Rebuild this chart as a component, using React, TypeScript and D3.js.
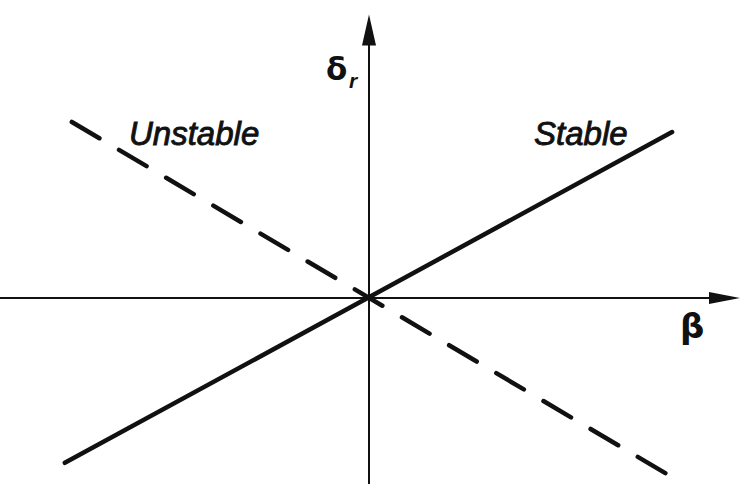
import React from 'react';
import * as d3 from 'd3';

// sideslip angle beta vs rudder deflection delta_r (normalised units)
const stableBeta = [-0.869, 0.866];
const stableDelta = [-0.471, 0.474];
const unstableBeta = [-0.849, 0.851];
const unstableDelta = [0.503, -0.503];
const axisBetaRange = [-1.06, 1.06];
const axisDeltaRange = [-0.54, 0.81];
const lineLabels = ['Stable', 'Unstable'];

const width = 750;
const height = 484;

const App: React.FC = () => {
  const x = d3.scaleLinear().domain([-1, 1]).range([19, 719]);
  const y = d3.scaleLinear().domain([-1, 1]).range([648, -52]);

  const line = d3
    .line<[number, number]>()
    .x((d) => x(d[0]))
    .y((d) => y(d[1]));

  const stablePts = stableBeta.map((b, i) => [b, stableDelta[i]] as [number, number]);
  const unstablePts = unstableBeta.map((b, i) => [b, unstableDelta[i]] as [number, number]);

  const x0 = x(0);
  const y0 = y(0);
  const xTip = x(axisBetaRange[1]);
  const yTip = y(axisDeltaRange[1]);

  return (
    <svg
      width={width}
      height={height}
      style={{ position: 'absolute', left: 0, top: 0, background: '#fff' }}
    >
      {/* axes */}
      <line x1={x(axisBetaRange[0])} y1={y0} x2={xTip - 20} y2={y0} stroke="#111" strokeWidth={2} />
      <line x1={x0} y1={y(axisDeltaRange[0])} x2={x0} y2={yTip + 20} stroke="#111" strokeWidth={2} />
      <path d={`M${xTip},${y0} L${xTip - 31},${y0 - 6} L${xTip - 31},${y0 + 6} Z`} fill="#111" />
      <path d={`M${x0},${yTip} L${x0 - 7},${yTip + 31} L${x0 + 7},${yTip + 31} Z`} fill="#111" />

      {/* characteristic lines */}
      <path d={line(stablePts) ?? ''} stroke="#111" strokeWidth={4.5} fill="none" strokeLinecap="round" />
      <path
        d={line(unstablePts) ?? ''}
        stroke="#111"
        strokeWidth={4.5}
        fill="none"
        strokeLinecap="round"
        strokeDasharray="32 22.8"
      />

      {/* labels */}
      <g
        fontFamily="'Liberation Sans', Arial, sans-serif"
        fontStyle="italic"
        fontSize={33}
        fill="#111"
        stroke="#111"
        strokeWidth={0.9}
      >
        <text x={534} y={145}>{lineLabels[0]}</text>
        <text x={129} y={145}>{lineLabels[1]}</text>
      </g>
      <text x={326} y={80} fontFamily="'DejaVu Sans', sans-serif" fontWeight="bold" fontSize={31} fill="#111">
        δ
      </text>
      <text x={349} y={88} fontFamily="'Liberation Sans', sans-serif" fontStyle="italic" fontWeight="bold" fontSize={21} fill="#111">
        r
      </text>
      <text x={680} y={338} fontFamily="'DejaVu Sans', sans-serif" fontWeight="bold" fontSize={34} fill="#111">
        β
      </text>
    </svg>
  );
};

export default App;
